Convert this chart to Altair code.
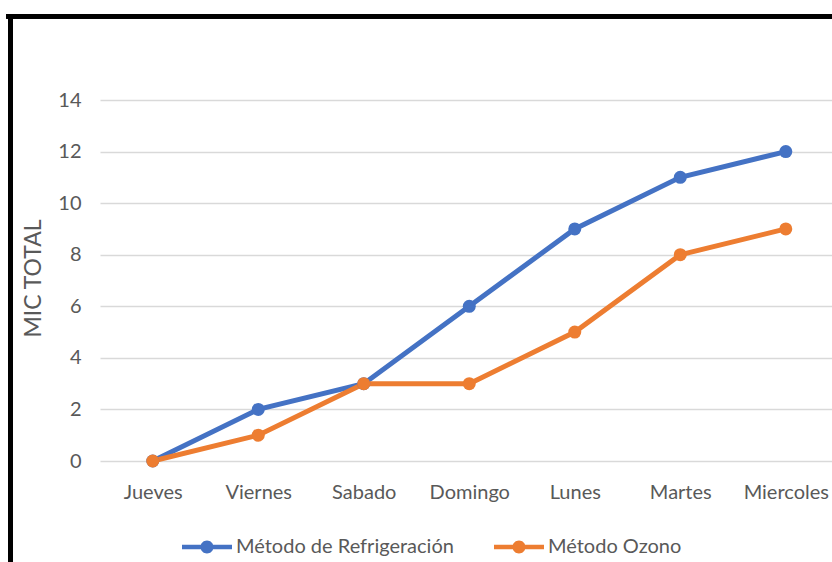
import altair as alt
import pandas as pd

# Daily MIC totals for the two treatment methods
dias = ["Jueves", "Viernes", "Sabado", "Domingo", "Lunes", "Martes", "Miercoles"]
refrigeracion = [0, 2, 3, 6, 9, 11, 12]
ozono = [0, 1, 3, 3, 5, 8, 9]
series = ["Método de Refrigeración", "Método Ozono"]
colores = ["#4472C4", "#ED7D31"]
y_ticks = [0, 2, 4, 6, 8, 10, 12, 14]

rows = []
for nombre, valores in zip(series, [refrigeracion, ozono]):
    for d, v in zip(dias, valores):
        rows.append({"dia": d, "mic": v, "serie": nombre})
df = pd.DataFrame(rows)

FONT = "Lato"
GRAY = "#595959"

# legend glyph: a short thick line with a dot in the middle
glyph = (
    "M-1,-0.09 L1,-0.09 L1,0.09 L-1,0.09 Z "
    "M0.26,0 A0.26,0.26 0 1,1 -0.26,0 A0.26,0.26 0 1,1 0.26,0 Z"
)

color_scale = alt.Scale(domain=series, range=colores)
legend = alt.Legend(
    title=None,
    orient="none",
    legendX=82,
    legendY=422,
    direction="horizontal",
    symbolType=glyph,
    symbolSize=2500,
    symbolStrokeWidth=0,
    labelFont=FONT,
    labelFontSize=20,
    labelColor=GRAY,
    labelOffset=4,
    columnPadding=40,
    labelLimit=400,
)

x_enc = alt.X(
    "dia:N",
    sort=dias,
    scale=alt.Scale(type="point", padding=0.469, align=0.533),
    axis=alt.Axis(
        title=None,
        domain=False,
        ticks=False,
        labelAngle=0,
        labelFont=FONT,
        labelFontSize=20,
        labelColor=GRAY,
        labelPadding=21,
    ),
)
y_enc = alt.Y(
    "mic:Q",
    scale=alt.Scale(domain=[0, 14], nice=False),
    axis=alt.Axis(
        values=y_ticks,
        domain=False,
        ticks=False,
        grid=True,
        gridColor="#D9D9D9",
        gridWidth=1.5,
        labelFont=FONT,
        labelFontSize=20,
        labelColor=GRAY,
        labelPadding=19,
        title="MIC TOTAL",
        titleFont=FONT,
        titleFontSize=23,
        titleFontWeight="normal",
        titleColor=GRAY,
        titleX=-67,
        titleY=178,
        titleAlign="center",
        titleBaseline="middle",
    ),
)

base = alt.Chart(df).encode(
    x=x_enc,
    y=y_enc,
    color=alt.Color("serie:N", scale=color_scale, legend=legend, sort=series),
    order=alt.Order("dia_idx:Q"),
)

lineas = base.mark_line(strokeWidth=5)
puntos = base.mark_circle(size=169, opacity=1)

# black frame along the top and left edges
marco_top = alt.Chart(df).mark_rule(color="black", strokeWidth=4, strokeCap="square").encode(
    x=alt.value(-91.7), x2=alt.value(740), y=alt.value(-83.7)
)
marco_left = alt.Chart(df).mark_rule(color="black", strokeWidth=4, strokeCap="square").encode(
    x=alt.value(-89.7), y=alt.value(-83.7), y2=alt.value(470)
)

chart = (
    alt.layer(lineas, puntos, marco_top, marco_left)
    .transform_calculate(dia_idx=f"indexof({dias}, datum.dia)")
    .properties(
        width=732,
        height=361,
        autosize=alt.AutoSizeParams(type="none"),
        padding={"left": 100, "top": 100, "right": 0, "bottom": 101},
        background="white",
    )
    .configure_view(stroke=None)
)

chart.save("out.html", embed_options={"renderer": "svg", "actions": False})
